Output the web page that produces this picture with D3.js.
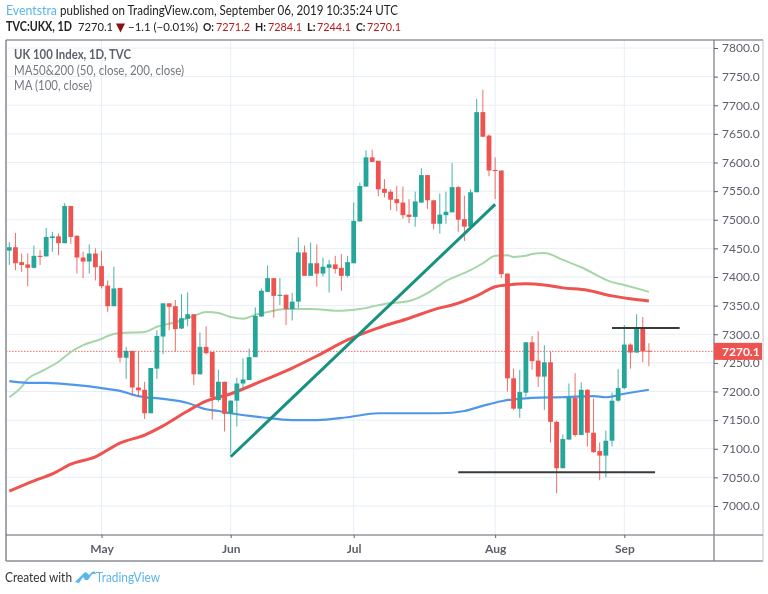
<!DOCTYPE html>
<html><head><meta charset="utf-8">
<script src="https://cdn.jsdelivr.net/npm/d3@7"></script>
<style>html,body{margin:0;padding:0;background:#fff}svg{display:block;filter:blur(.35px)}text{font-family:Lato,sans-serif}</style>
</head><body><div id="c"></div>
<script>
const open=[7446,7452,7426,7422,7416,7437,7436,7468,7471,7459,
7524,7472,7434,7427,7441,7419,7385,7349,7381,7259,
7271,7207,7203,7162,7240,7296,7354,7349,7310,7327,
7335,7230,7278,7269,7185,7217,7161,7184,7214,7220,
7260,7331,7374,7398,7367,7369,7344,7357,7443,7402,
7424,7406,7416,7422,7416,7402,7424,7497,7558,7609,
7603,7554,7549,7536,7530,7509,7505,7530,7578,7534,
7493,7508,7513,7557,7501,7488,7548,7688,7647,7587,
7586,7406,7223,7170,7198,7286,7254,7226,7251,7147,
7066,7116,7189,7124,7203,7128,7096,7088,7114,7184,
7206,7282,7268,7310,7271.2];
const close=[7452,7424,7421,7416,7437,7435,7470,7471,7459,7524,
7470,7434,7427,7441,7417,7384,7349,7380,7259,7271,
7207,7202,7162,7241,7297,7354,7348,7309,7328,7335,
7230,7278,7267,7190,7217,7161,7184,7214,7221,7260,
7332,7376,7398,7367,7369,7344,7357,7443,7402,7424,
7406,7418,7422,7414,7402,7426,7498,7559,7609,7601,
7553,7547,7535,7529,7508,7505,7532,7578,7534,7493,
7509,7514,7557,7500,7488,7548,7688,7645,7586,7585,
7405,7223,7170,7199,7286,7253,7226,7251,7147,7066,
7117,7189,7124,7203,7128,7094,7088,7114,7184,7206,
7282,7268,7310,7270,7270.1];
const high=[7461,7477,7441,7441,7455,7447,7486,7479,7476,7529,
7524,7473,7444,7457,7450,7446,7394,7418,7381,7278,
7271,7270,7217,7241,7307,7354,7354,7360,7370,7373,
7335,7303,7314,7269,7238,7217,7185,7224,7258,7275,
7347,7380,7420,7398,7398,7369,7372,7469,7455,7460,
7457,7434,7430,7437,7440,7437,7530,7565,7621,7622,
7603,7571,7553,7559,7558,7536,7549,7590,7578,7534,
7546,7549,7599,7559,7542,7553,7711,7727,7649,7609,
7586,7406,7240,7238,7286,7297,7305,7281,7270,7149,
7125,7214,7232,7216,7204,7188,7111,7132,7198,7239,
7316,7284,7335,7330,7284.1];
const low=[7421,7412,7409,7384,7415,7421,7436,7444,7438,7459,
7458,7406,7398,7406,7394,7380,7339,7349,7251,7222,
7193,7191,7152,7162,7222,7265,7307,7270,7309,7314,
7211,7230,7265,7151,7182,7130,7092,7139,7203,7220,
7260,7330,7374,7329,7351,7316,7324,7346,7402,7402,
7383,7401,7373,7406,7376,7399,7424,7497,7558,7601,
7541,7539,7517,7515,7502,7494,7488,7529,7519,7483,
7476,7493,7513,7479,7463,7488,7548,7645,7576,7536,
7398,7200,7168,7154,7191,7238,7208,7168,7111,7022,
7066,7116,7121,7124,7104,7093,7045,7050,7104,7182,
7204,7240,7268,7251,7244.1];

const ma50Bars=[0,2,3,5,8,10,12,15,16,18,22,24,27,30,32,34,36,38,40,42,45,49,54,57,61,65,68,71,75,77,79,81,82,84,85,87,90,93,98,100,104];
const ma50=[7190,7208,7222,7234,7252,7269,7281,7292,7297,7302,7304,7313,7321,7332,7339,7337,7330,7327,7334,7339,7344,7344,7341,7344,7353,7358,7372,7393,7412,7424,7437,7438,7435,7437,7440,7442,7430,7417,7391,7386,7374];
const ma100Bars=[0,4,7,10,14,18,22,25,29,32,36,41,46,50,55,60,65,70,72,76,79,81,84,87,90,94,98,101,104];
const ma100=[7026,7044,7056,7073,7086,7110,7124,7140,7166,7183,7196,7218,7241,7262,7290,7311,7328,7346,7351,7367,7383,7386,7388,7386,7381,7377,7367,7362,7358];
const ma200Bars=[0,3,6,11,15,18,21,25,29,32,34,36,41,46,50,55,60,70,74,77,80,85,90,95,97,100,104];
const ma200=[7218,7215,7215,7211,7206,7201,7192,7187,7180,7169,7166,7162,7155,7150,7150,7155,7162,7162,7166,7175,7183,7189,7190,7192,7190,7196,7203];

const priceTicks=[7000,7050,7100,7150,7200,7250,7300,7350,7400,7450,7500,7550,7600,7650,7700,7750,7800];
const monthBars=[15,36,56,79,100];
const monthLabels=["May","Jun","Jul","Aug","Sep"];
const trendBars=[36,79], trendValues=[7086,7527];
const supportBars=[73,105], supportValue=7059;
const resistBars=[98,109], resistValue=7311;
const lastPrice=7270.1;

const W=768,H=594,L=6,R=714,T=40,B=535,FB=561,FR=763;
const x=d3.scaleLinear().domain([0,100]).range([9.3,624.3]);
const y=d3.scaleLinear().domain([7000,7800]).range([506,48]);
const GREEN="#26a69a",RED="#ef5350",GRID="#e6eef5",AXT="#5d606b";
const svg=d3.select("#c").append("svg").attr("width",W).attr("height",H);

// fitted text helper
function label(x0,x1,yy,t,o={}){
  return svg.append("text").attr("x",x0).attr("y",yy).attr("font-size",o.size||13)
    .attr("font-weight",o.w||400).attr("fill",o.c||"#222")
    .attr("textLength",x1-x0).attr("lengthAdjust","spacingAndGlyphs").text(t);
}
const BLUE="#5ab5ea",DR="#b71c1c",S2=11.4;
label(6,57,15,"Eventstra",{c:BLUE});
label(60,398,15,"published on TradingView.com, September 06, 2019 10:35:24 UTC");
label(6,72,31,"TVC:UKX, 1D",{w:700});
label(78,113,31,"7270.1",{size:S2});
svg.append("path").attr("fill","#8b1010").attr("d",d3.line()([[116,23.5],[125,23.5],[120.5,32.5]])+"Z");
label(128,198,31,"−1.1 (−0.01%)",{size:S2});
label(203,214,31,"O:",{w:700,size:S2}); label(216,250,31,"7271.2",{c:DR,size:S2});
label(255,266,31,"H:",{w:700,size:S2}); label(268,302,31,"7284.1",{c:DR,size:S2});
label(307,315.5,31,"L:",{w:700,size:S2}); label(317,351,31,"7244.1",{c:DR,size:S2});
label(356,365.5,31,"C:",{w:700,size:S2}); label(367,401,31,"7270.1",{c:DR,size:S2});

// grid
const plot=svg.append("g");
plot.append("g").selectAll("line").data(priceTicks).join("line")
  .attr("x1",L).attr("x2",R).attr("y1",d=>y(d)).attr("y2",d=>y(d)).attr("stroke",GRID).attr("stroke-width",1);
plot.append("g").selectAll("line").data(monthBars).join("line")
  .attr("x1",d=>x(d)).attr("x2",d=>x(d)).attr("y1",T).attr("y2",B).attr("stroke",GRID).attr("stroke-width",1);

// last price line
plot.append("line").attr("x1",L).attr("x2",R).attr("y1",y(lastPrice)).attr("y2",y(lastPrice))
  .attr("stroke",RED).attr("stroke-opacity",.9).attr("stroke-width",1).attr("stroke-dasharray","1.5 1.5");

// moving averages
const line=d3.line().x(d=>x(d[0])).y(d=>y(d[1])).curve(d3.curveMonotoneX);
[[ma50Bars,ma50,"#a5d6a7",2],[ma200Bars,ma200,"#4f97ea",2.2],[ma100Bars,ma100,RED,3]].forEach(([b,s,c,w])=>{
  plot.append("path").attr("d",line(b.map((d,i)=>[d,s[i]]))).attr("fill","none").attr("stroke",c).attr("stroke-width",w);
});

// candles
const idx=d3.range(open.length);
const col=i=>close[i]>=open[i]?GREEN:RED;
const cg=plot.append("g");
cg.selectAll("line").data(idx).join("line")
  .attr("x1",i=>x(i)).attr("x2",i=>x(i)).attr("y1",i=>y(high[i])).attr("y2",i=>y(low[i]))
  .attr("stroke",col).attr("stroke-width",1).attr("stroke-opacity",.85);
cg.selectAll("rect").data(idx).join("rect")
  .attr("x",i=>x(i)-2.4).attr("width",4.8)
  .attr("y",i=>y(Math.max(open[i],close[i])))
  .attr("height",i=>Math.max(1,Math.abs(y(open[i])-y(close[i]))))
  .attr("fill",col);

// drawings
plot.append("line").attr("x1",x(trendBars[0])).attr("y1",y(trendValues[0])).attr("x2",x(trendBars[1])).attr("y2",y(trendValues[1]))
  .attr("stroke","#18917f").attr("stroke-width",3);
plot.append("line").attr("x1",x(supportBars[0])).attr("x2",x(supportBars[1])).attr("y1",y(supportValue)).attr("y2",y(supportValue))
  .attr("stroke","#3a3a3a").attr("stroke-width",2);
plot.append("line").attr("x1",x(resistBars[0])).attr("x2",x(resistBars[1])).attr("y1",y(resistValue)).attr("y2",y(resistValue))
  .attr("stroke","#3a3a3a").attr("stroke-width",2);

// frame
const FC="#8a8d96";
svg.append("line").attr("x1",L).attr("x2",L).attr("y1",T).attr("y2",FB).attr("stroke","#a4a6ad").attr("stroke-width",2);
svg.append("line").attr("x1",L).attr("x2",FR).attr("y1",T).attr("y2",T).attr("stroke","#5f626c").attr("stroke-width",1.2);
svg.append("line").attr("x1",L).attr("x2",FR).attr("y1",FB).attr("y2",FB).attr("stroke",FC).attr("stroke-width",1.3);
svg.append("line").attr("x1",FR).attr("x2",FR).attr("y1",T).attr("y2",FB).attr("stroke","#c4c6cc").attr("stroke-width",1);
svg.append("line").attr("x1",L).attr("x2",FR).attr("y1",B).attr("y2",B).attr("stroke","#5f626c").attr("stroke-width",1);
svg.append("line").attr("x1",R).attr("x2",R).attr("y1",T).attr("y2",FB).attr("stroke",FC).attr("stroke-width",1.4);

// axes
const ay=d3.axisRight(y).tickValues(priceTicks).tickSize(4).tickPadding(4).tickFormat(d3.format(".1f"));
const gy=svg.append("g").attr("transform",`translate(${R},0)`).call(ay);
gy.select(".domain").remove();
gy.selectAll("line").attr("stroke","#5f626c");
gy.selectAll("text").attr("fill",AXT).attr("font-size",12).style("font-family","Lato,sans-serif");
const ax=d3.axisBottom(x).tickValues(monthBars).tickSize(3).tickPadding(6).tickFormat((d,i)=>monthLabels[i]);
const gx=svg.append("g").attr("transform",`translate(0,${B})`).call(ax);
gx.select(".domain").remove();
gx.selectAll("line").attr("stroke","#5f626c");
gx.selectAll("text").attr("fill",AXT).attr("font-size",12).attr("font-weight",700).style("font-family","Lato,sans-serif");

// last price label
svg.append("rect").attr("x",R).attr("y",y(lastPrice)-8.5).attr("width",48).attr("height",17).attr("fill",RED);
svg.append("text").attr("x",R+8).attr("y",y(lastPrice)+4.5).attr("fill","#fff").attr("font-size",12).attr("font-weight",700).text(d3.format(".1f")(lastPrice));

// legend
label(14,131,59,"UK 100 Index, 1D, TVC",{w:700,c:"#5f626c",size:12.5});
label(14,184,75,"MA50&200 (50, close, 200, close)",{c:"#75787f",size:12.5});
label(14,92,90,"MA (100, close)",{c:"#75787f",size:12.5});

// footer
label(5,72,582,"Created with",{c:"#333"});
svg.append("path").attr("fill",BLUE)
 .attr("d","M75 582 L83 574 Q85 571 87 573 L89 575 L92 572 Q94 571 95 572 L96 574 L92 574 L88 580 L85 580 L83 577 L79 583 Z");
label(96,160,582,"TradingView",{c:BLUE});
</script></body></html>
